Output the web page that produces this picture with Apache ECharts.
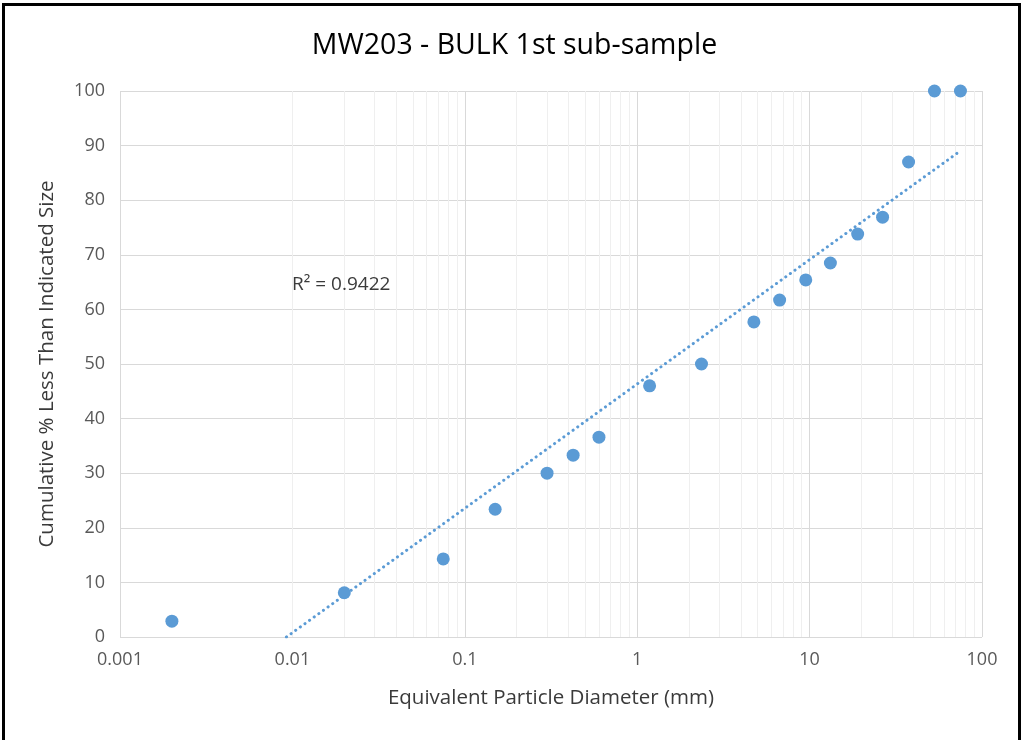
<!DOCTYPE html>
<html>
<head>
<meta charset="utf-8">
<script src="https://cdn.jsdelivr.net/npm/echarts@6/dist/echarts.min.js"></script>
<style>
  html, body { margin: 0; padding: 0; background: #fff; }
  #frame { position: absolute; left: 2px; top: 3px; width: 1019px; height: 760px; border: 3px solid #000; box-sizing: border-box; }
  #chart { position: absolute; left: 0; top: 0; width: 1029px; height: 740px; }
</style>
</head>
<body>
<div id="frame"></div>
<div id="chart"></div>
<script>
// ---- data ----
const diameters = [0.002, 0.02, 0.075, 0.15, 0.3, 0.425, 0.6, 1.18, 2.36, 4.75, 6.7, 9.5, 13.2, 19, 26.5, 37.5, 53, 75];
const cumulativePct = [2.9, 8.1, 14.3, 23.4, 30.0, 33.3, 36.6, 46.0, 50.0, 57.7, 61.7, 65.4, 68.5, 73.8, 76.9, 87.0, 100, 100];
const xTickValues = [0.001, 0.01, 0.1, 1, 10, 100];
const xTickLabels = ['0.001', '0.01', '0.1', '1', '10', '100'];
const rSquaredText = 'R² = 0.9422';
const titleText = 'MW203 - BULK 1st sub-sample';
const xTitle = 'Equivalent Particle Diameter (mm)';
const yTitle = 'Cumulative % Less Than Indicated Size';

// ---- logarithmic trendline (least squares on log10(x)) ----
const n = diameters.length;
let sx = 0, sy = 0, sxx = 0, sxy = 0;
for (let i = 0; i < n; i++) {
  const lx = Math.log10(diameters[i]);
  sx += lx; sy += cumulativePct[i]; sxx += lx * lx; sxy += lx * cumulativePct[i];
}
const slope = (n * sxy - sx * sy) / (n * sxx - sx * sx);
const intercept = (sy - slope * sx) / n;
const xMin = Math.min(...diameters), xMax = Math.max(...diameters);
const xZero = Math.pow(10, -intercept / slope);
const xStart = Math.max(xMin, xZero);
const trend = [[xStart, slope * Math.log10(xStart) + intercept], [xMax, slope * Math.log10(xMax) + intercept]];

// minor gridlines
const minorLines = [];
for (let d = -3; d < 2; d++) {
  for (let k = 2; k <= 9; k++) minorLines.push({ xAxis: k * Math.pow(10, d) });
}

const font = '"Open Sans", sans-serif';
const chart = echarts.init(document.getElementById('chart'), null, { renderer: 'canvas' });
chart.setOption({
  animation: false,
  backgroundColor: 'transparent',
  title: {
    text: titleText, left: 'center', top: 26,
    textStyle: { fontFamily: font, fontSize: 28.5, fontWeight: 'normal', color: '#000' }
  },
  grid: { left: 120, right: 47, top: 91, bottom: 103 },
  xAxis: {
    type: 'log', logBase: 10, min: 0.001, max: 100,
    name: xTitle, nameLocation: 'middle', nameGap: 51,
    nameTextStyle: { fontFamily: font, fontSize: 20.5, color: '#3a3a3a' },
    axisLine: { show: false }, axisTick: { show: false },
    axisLabel: { fontFamily: font, fontSize: 18, color: '#595959', margin: 14,
      formatter: v => { const i = xTickValues.findIndex(t => Math.abs(Math.log10(t) - Math.log10(v)) < 1e-6); return i >= 0 ? xTickLabels[i] : ''; } },
    splitLine: { show: true, lineStyle: { color: '#d9d9d9', width: 1 } }
  },
  yAxis: {
    type: 'value', min: 0, max: 100, interval: 10,
    name: yTitle, nameLocation: 'middle', nameGap: 62,
    nameTextStyle: { fontFamily: font, fontSize: 20.5, color: '#3a3a3a' },
    axisLine: { show: false }, axisTick: { show: false },
    axisLabel: { fontFamily: font, fontSize: 18, color: '#595959', margin: 15 },
    splitLine: { show: true, lineStyle: { color: '#d9d9d9', width: 1 } }
  },
  series: [
    {
      type: 'line', data: [], silent: true, z: 0,
      markLine: { silent: true, symbol: 'none', label: { show: false }, z: 0,
        lineStyle: { color: '#efefef', width: 1, type: 'solid' }, data: minorLines }
    },
    {
      type: 'line', data: trend, showSymbol: false, symbol: 'none',
      lineStyle: { color: '#5B9BD5', width: 3, type: [0.1, 5.6], cap: 'round' }, z: 3
    },
    {
      type: 'scatter', data: diameters.map((d, i) => [d, cumulativePct[i]]),
      symbolSize: 13, itemStyle: { color: '#5B9BD5', opacity: 1 }, z: 10
    }
  ],
  graphic: [{
    type: 'text', left: 292, top: 275, z: 100,
    style: { text: rSquaredText, fontFamily: font, fontSize: 19, fill: '#3a3a3a' }
  }]
});
</script>
</body>
</html>
